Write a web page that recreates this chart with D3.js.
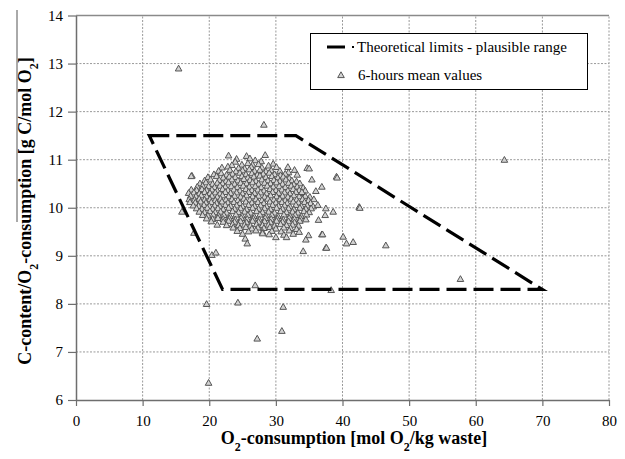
<!DOCTYPE html>
<html>
<head>
<meta charset="utf-8">
<script src="https://cdn.jsdelivr.net/npm/d3@7"></script>
<style>
    body { margin: 0; background: #fff; }
    text { font-family: "Liberation Serif", "Times New Roman", serif; fill: #000; }
</style>
</head>
<body>
<svg id="chart" width="625" height="459"></svg>
<script>
// x: O2-consumption [mol O2/kg waste], y: C-content / O2-consumption [g C/mol O2]
var xTicks = [0, 10, 20, 30, 40, 50, 60, 70, 80];
var yTicks = [6, 7, 8, 9, 10, 11, 12, 13, 14];

// corners of the theoretical plausible range
var limitCorners = [[11, 11.5], [33, 11.5], [70, 8.3], [22, 8.3]];

var legendLabels = ["Theoretical limits - plausible range", "6-hours mean values"];

// 6-hours mean values
var sixHourMeans = [
    [22.9, 11.09], [25.6, 11.08], [28.4, 11.1], [24.1, 11.02], [26.1, 11.03], [26.9, 10.99], [27.8, 10.97], [23.9, 10.96],
    [23.4, 10.89], [24.9, 10.9], [25.8, 10.93], [27.4, 10.91], [28.9, 10.88], [29.6, 10.92], [26.5, 10.9],
    [21.9, 10.84], [22.8, 10.86], [24.4, 10.83], [26.3, 10.85], [27.9, 10.84], [30.1, 10.85], [31.8, 10.85], [34.7, 10.83], [25.3, 10.82],
    [21.4, 10.77], [23.1, 10.79], [24.0, 10.76], [25.0, 10.78], [26.0, 10.8], [26.8, 10.77], [27.6, 10.79], [28.5, 10.76], [29.3, 10.78], [30.6, 10.77], [31.9, 10.74], [32.8, 10.79],
    [20.7, 10.7], [21.8, 10.72], [22.6, 10.69], [23.5, 10.71], [24.6, 10.73], [25.5, 10.7], [26.4, 10.72], [27.2, 10.69], [28.1, 10.71], [29.0, 10.73], [29.8, 10.7], [30.7, 10.68], [31.4, 10.71], [33.2, 10.69],
    [17.4, 10.67], [19.8, 10.64], [21.1, 10.66], [22.1, 10.63], [23.0, 10.65], [23.9, 10.64], [24.9, 10.66], [25.8, 10.63], [26.7, 10.65], [27.6, 10.67], [28.5, 10.64], [29.4, 10.66], [30.3, 10.63], [31.1, 10.65], [32.0, 10.62], [35.4, 10.59], [39.1, 10.65],
    [19.3, 10.57], [20.2, 10.59], [21.5, 10.58], [22.5, 10.56], [23.4, 10.59], [24.3, 10.57], [25.2, 10.6], [26.1, 10.58], [27.0, 10.56], [27.9, 10.59], [28.8, 10.57], [29.7, 10.58], [30.6, 10.56], [31.5, 10.59], [32.4, 10.57], [33.1, 10.55],
    [18.6, 10.51], [19.5, 10.53], [20.5, 10.5], [21.2, 10.52], [22.0, 10.51], [22.9, 10.53], [23.8, 10.5], [24.7, 10.52], [25.6, 10.51], [26.5, 10.53], [27.4, 10.5], [28.3, 10.52], [29.2, 10.51], [30.1, 10.53], [31.0, 10.5], [31.9, 10.52], [32.7, 10.49], [33.6, 10.51],
    [18.2, 10.44], [19.0, 10.46], [19.9, 10.45], [20.8, 10.43], [21.6, 10.46], [22.4, 10.44], [23.3, 10.45], [24.2, 10.43], [25.1, 10.46], [26.0, 10.44], [26.9, 10.45], [27.8, 10.43], [28.7, 10.46], [29.6, 10.44], [30.5, 10.45], [31.4, 10.43], [32.3, 10.46], [33.2, 10.44], [34.1, 10.42], [36.9, 10.44],
    [17.3, 10.38], [18.1, 10.37], [18.9, 10.39], [19.6, 10.37], [20.4, 10.38], [21.2, 10.36], [22.0, 10.39], [22.8, 10.37], [23.7, 10.38], [24.6, 10.36], [25.5, 10.39], [26.4, 10.37], [27.3, 10.38], [28.2, 10.36], [29.1, 10.39], [30.0, 10.37], [30.9, 10.38], [31.8, 10.36], [32.6, 10.39], [33.5, 10.37], [34.4, 10.36],
    [16.9, 10.31], [17.7, 10.32], [18.5, 10.3], [19.3, 10.33], [20.1, 10.31], [20.9, 10.32], [21.6, 10.3], [22.4, 10.33], [23.2, 10.31], [24.1, 10.32], [25.0, 10.3], [25.9, 10.33], [26.8, 10.31], [27.7, 10.32], [28.6, 10.3], [29.5, 10.33], [30.4, 10.31], [31.3, 10.32], [32.1, 10.3], [33.0, 10.33], [33.9, 10.31], [36.0, 10.35],
    [17.2, 10.25], [18.0, 10.24], [18.8, 10.26], [19.6, 10.24], [20.4, 10.25], [21.2, 10.23], [22.0, 10.26], [22.9, 10.24], [23.8, 10.25], [24.7, 10.23], [25.6, 10.26], [26.5, 10.24], [27.4, 10.25], [28.3, 10.23], [29.2, 10.26], [30.1, 10.24], [31.0, 10.25], [31.8, 10.23], [32.7, 10.26], [33.5, 10.24], [34.4, 10.25], [35.1, 10.23],
    [17.0, 10.18], [17.8, 10.17], [18.5, 10.19], [19.3, 10.17], [20.1, 10.18], [20.9, 10.16], [21.7, 10.19], [22.5, 10.17], [23.4, 10.18], [24.3, 10.16], [25.2, 10.19], [26.1, 10.17], [27.0, 10.18], [27.9, 10.16], [28.8, 10.19], [29.7, 10.17], [30.6, 10.18], [31.4, 10.16], [32.3, 10.19], [33.1, 10.17], [34.0, 10.18], [34.9, 10.16], [35.7, 10.18],
    [17.1, 10.12], [17.9, 10.11], [18.7, 10.13], [19.5, 10.11], [20.3, 10.12], [21.1, 10.1], [21.9, 10.13], [22.8, 10.11], [23.7, 10.12], [24.6, 10.1], [25.5, 10.13], [26.4, 10.11], [27.3, 10.12], [28.2, 10.1], [29.1, 10.13], [30.0, 10.11], [30.9, 10.12], [31.7, 10.1], [32.6, 10.13], [33.4, 10.11], [34.3, 10.12], [35.2, 10.1],
    [17.6, 10.05], [18.4, 10.04], [19.2, 10.06], [20.0, 10.04], [20.8, 10.05], [21.6, 10.03], [22.4, 10.06], [23.2, 10.04], [24.1, 10.05], [25.0, 10.03], [25.9, 10.06], [26.8, 10.04], [27.7, 10.05], [28.6, 10.03], [29.5, 10.06], [30.4, 10.04], [31.3, 10.05], [32.1, 10.03], [33.0, 10.06], [33.8, 10.04], [34.7, 10.05], [35.6, 10.03], [36.3, 10.06],
    [18.1, 9.99], [18.9, 9.98], [19.7, 10.0], [20.5, 9.98], [21.3, 9.99], [22.1, 9.97], [22.9, 10.0], [23.8, 9.98], [24.7, 9.99], [25.6, 9.97], [26.5, 10.0], [27.4, 9.98], [28.3, 9.99], [29.2, 9.97], [30.1, 10.0], [31.0, 9.98], [31.9, 9.99], [32.7, 9.97], [33.6, 10.0], [34.5, 9.98], [35.3, 9.99], [37.5, 9.99], [42.5, 10.02],
    [15.9, 9.92], [18.5, 9.92], [19.3, 9.91], [20.1, 9.93], [20.9, 9.91], [21.7, 9.92], [22.6, 9.9], [23.5, 9.93], [24.4, 9.91], [25.3, 9.92], [26.2, 9.9], [27.1, 9.93], [28.0, 9.91], [28.9, 9.92], [29.8, 9.9], [30.7, 9.93], [31.6, 9.91], [32.5, 9.92], [33.3, 9.9], [34.2, 9.93], [35.0, 9.91], [38.6, 9.92],
    [19.0, 9.85], [19.8, 9.84], [20.6, 9.86], [21.4, 9.84], [22.2, 9.85], [23.1, 9.83], [24.0, 9.86], [24.9, 9.84], [25.8, 9.85], [26.7, 9.83], [27.6, 9.86], [28.5, 9.84], [29.4, 9.85], [30.3, 9.83], [31.2, 9.86], [32.1, 9.84], [32.9, 9.85], [33.8, 9.83], [34.6, 9.86], [37.4, 9.85],
    [19.6, 9.78], [20.5, 9.77], [21.3, 9.79], [22.1, 9.77], [23.0, 9.78], [23.9, 9.76], [24.8, 9.79], [25.7, 9.77], [26.6, 9.78], [27.5, 9.76], [28.4, 9.79], [29.3, 9.77], [30.2, 9.78], [31.1, 9.76], [32.0, 9.79], [32.8, 9.77], [33.7, 9.78], [34.5, 9.76],
    [20.3, 9.72], [22.1, 9.71], [22.9, 9.73], [23.8, 9.71], [24.7, 9.72], [25.6, 9.7], [26.5, 9.73], [27.4, 9.71], [28.3, 9.72], [29.2, 9.7], [30.1, 9.73], [31.0, 9.71], [31.9, 9.72], [32.8, 9.7], [33.6, 9.73], [36.4, 9.75],
    [21.2, 9.65], [22.6, 9.64], [23.5, 9.66], [24.4, 9.64], [25.3, 9.65], [26.2, 9.63], [27.1, 9.66], [28.0, 9.64], [28.9, 9.65], [29.8, 9.63], [30.7, 9.66], [31.6, 9.64], [32.5, 9.65], [33.4, 9.63],
    [23.6, 9.59], [24.6, 9.58], [25.5, 9.6], [26.4, 9.57], [27.3, 9.59], [28.2, 9.58], [29.1, 9.6], [30.0, 9.57], [31.2, 9.59], [32.2, 9.58], [33.1, 9.56],
    [24.2, 9.52], [25.9, 9.51], [27.0, 9.53], [28.0, 9.5], [29.4, 9.52], [30.8, 9.51], [32.0, 9.53], [33.5, 9.5],
    [25.0, 9.46], [28.0, 9.47], [29.0, 9.45], [31.2, 9.44], [32.6, 9.46], [34.9, 9.43], [36.9, 9.45], [37.0, 9.45],
    [25.4, 9.36], [30.0, 9.39], [31.6, 9.39], [34.5, 9.34], [40.1, 9.4], [25.7, 9.26], [41.6, 9.29], [40.6, 9.26], [46.5, 9.22], [37.5, 9.17], [34.1, 9.1],
    [17.3, 10.66], [17.7, 9.48], [20.4, 9.02], [21.0, 9.07],
    [35.0, 10.82], [39.2, 10.63], [33.9, 10.33], [37.6, 9.17], [42.6, 10.0],
    [15.4, 12.9], [28.2, 11.73], [64.3, 11.0], [57.7, 8.52], [38.3, 8.29],
    [19.6, 8.0], [24.3, 8.03], [26.9, 8.39], [31.1, 7.94], [30.9, 7.44], [27.2, 7.28], [19.9, 6.36]
];

var svg = d3.select("#chart");
var serif = "'Liberation Serif', 'Times New Roman', serif";

var x = d3.scaleLinear().domain([0, 80]).range([76, 609]);
var y = d3.scaleLinear().domain([6, 14]).range([400, 15.5]);

var gridColor = "#9a9a9a";

// Vertical grid lines
svg.append("g").selectAll("line")
    .data(xTicks.slice(1))
    .enter().append("line")
    .attr("x1", function (d) { return x(d); })
    .attr("x2", function (d) { return x(d); })
    .attr("y1", y(6))
    .attr("y2", y(14))
    .attr("stroke", gridColor)
    .attr("stroke-width", 1)
    .attr("stroke-dasharray", "2,1.5");

// Horizontal grid lines (top one solid)
svg.append("g").selectAll("line")
    .data(yTicks.slice(1))
    .enter().append("line")
    .attr("x1", x(0))
    .attr("x2", x(80))
    .attr("y1", function (d) { return y(d); })
    .attr("y2", function (d) { return y(d); })
    .attr("stroke", function (d) { return d === 14 ? "#8a8a8a" : gridColor; })
    .attr("stroke-width", function (d) { return d === 14 ? 1.5 : 1; })
    .attr("stroke-dasharray", function (d) { return d === 14 ? null : "2,1.5"; });

// Axes
var xAxis = svg.append("g")
    .attr("transform", "translate(0," + y(6) + ")")
    .call(d3.axisBottom(x).tickValues(xTicks).tickSize(6).tickSizeOuter(0).tickPadding(9));

var yAxis = svg.append("g")
    .attr("transform", "translate(" + x(0) + ",0)")
    .call(d3.axisLeft(y).tickValues(yTicks).tickSize(8).tickSizeOuter(0).tickPadding(5));

[xAxis, yAxis].forEach(function (axis) {
    axis.attr("font-family", serif).attr("font-size", 15);
    axis.select(".domain").attr("stroke", "#6e6e6e").attr("stroke-width", 1.5);
    axis.selectAll(".tick line").attr("stroke", "#6e6e6e").attr("stroke-width", 1.2);
    axis.selectAll(".tick text").attr("fill", "#000").style("font-family", serif).style("font-size", "15px");
});

// Scatter of 6-hours mean values
var triangle = "M0,-3.2L3.3,2.6L-3.3,2.6Z";

svg.append("g").selectAll("path")
    .data(sixHourMeans)
    .enter().append("path")
    .attr("d", triangle)
    .attr("transform", function (d) { return "translate(" + x(d[0]) + "," + y(d[1]) + ")"; })
    .attr("fill", "#d2d2d2")
    .attr("stroke", "#555")
    .attr("stroke-width", 1);

// Theoretical limits polygon
var limitLine = d3.line()
    .x(function (d) { return x(d[0]); })
    .y(function (d) { return y(d[1]); })
    .curve(d3.curveLinearClosed);

svg.append("path")
    .attr("d", limitLine(limitCorners))
    .attr("fill", "none")
    .attr("stroke", "#000")
    .attr("stroke-width", 3.2)
    .attr("stroke-dasharray", "20,7");

// Legend
var legend = svg.append("g");

legend.append("rect")
    .attr("x", 310.5)
    .attr("y", 33.5)
    .attr("width", 277)
    .attr("height", 56)
    .attr("fill", "#fff")
    .attr("stroke", "#000")
    .attr("stroke-width", 1);

legend.append("line")
    .attr("x1", 327).attr("x2", 345)
    .attr("y1", 47).attr("y2", 47)
    .attr("stroke", "#000")
    .attr("stroke-width", 3);

legend.append("rect")
    .attr("x", 352).attr("y", 46)
    .attr("width", 2).attr("height", 2)
    .attr("fill", "#000");

legend.append("path")
    .attr("d", triangle)
    .attr("transform", "translate(341,75)")
    .attr("fill", "#d2d2d2")
    .attr("stroke", "#555")
    .attr("stroke-width", 1);

legend.selectAll("text.label")
    .data(legendLabels)
    .enter().append("text")
    .attr("class", "label")
    .attr("x", function (d, i) { return i === 0 ? 357 : 358; })
    .attr("y", function (d, i) { return i === 0 ? 52 : 80; })
    .style("font-family", serif)
    .style("font-size", "15px")
    .text(function (d) { return d; });

// Axis titles with subscripts
function addTitle(sel, parts) {
    parts.forEach(function (p) {
        var t = sel.append("tspan").text(p.t);
        if (p.sub) t.attr("baseline-shift", "sub").style("font-size", "12px");
    });
}

var xTitle = svg.append("text")
    .attr("x", 354)
    .attr("y", 444)
    .attr("text-anchor", "middle")
    .style("font-family", serif)
    .style("font-size", "18px")
    .style("font-weight", "bold");

addTitle(xTitle, [
    { t: "O" }, { t: "2", sub: true }, { t: "-consumption [mol O" }, { t: "2", sub: true }, { t: "/kg waste]" }
]);

var yTitle = svg.append("text")
    .attr("transform", "translate(31,211) rotate(-90)")
    .attr("text-anchor", "middle")
    .style("font-family", serif)
    .style("font-size", "18px")
    .style("font-weight", "bold");

addTitle(yTitle, [
    { t: "C-content/O" }, { t: "2", sub: true }, { t: "-consumption [g C/mol O" }, { t: "2", sub: true }, { t: "]" }
]);

// thin rule above the end of the y title, as in the source figure
svg.append("line")
    .attr("x1", 17).attr("x2", 17)
    .attr("y1", 10).attr("y2", 222)
    .attr("stroke", "#555")
    .attr("stroke-width", 1);
</script>
</body>
</html>
